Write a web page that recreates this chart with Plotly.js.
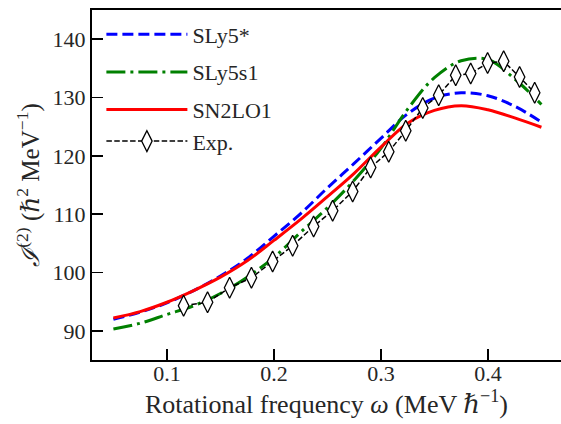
<!DOCTYPE html>
<html>
<head>
<meta charset="utf-8">
<script src="https://cdn.plot.ly/plotly-3.0.1.min.js"></script>
<style>html,body{margin:0;padding:0;background:#fff;overflow:hidden}</style>
</head>
<body>
<div id="chart" style="width:561px;height:424px"></div>
<script>
// Theory curves: rotational frequency (MeV/hbar)
const omegaTheory = [0.05, 0.075, 0.10, 0.125, 0.15, 0.175, 0.20, 0.225, 0.25, 0.275, 0.30, 0.325, 0.35, 0.375, 0.40, 0.425, 0.45];
const sly5star = [92.0, 93.2, 94.8, 96.9, 99.4, 102.4, 106.2, 110.1, 114.5, 118.7, 123.0, 127.2, 129.9, 130.8, 130.3, 128.5, 125.8];
const sly5s1   = [90.3, 91.3, 92.8, 94.3, 96.4, 99.2, 102.6, 106.9, 111.1, 115.8, 121.3, 128.0, 133.4, 136.3, 136.5, 133.2, 128.8];
const sn2lo1   = [92.2, 93.3, 94.9, 96.9, 99.2, 102.0, 105.5, 109.1, 113.0, 117.0, 121.5, 125.6, 127.8, 128.6, 127.9, 126.5, 124.9];

// Experimental data
const omegaExp = [0.1156, 0.138, 0.1586, 0.179, 0.1988, 0.2175, 0.2371, 0.2549, 0.2736, 0.2904, 0.3073, 0.3232, 0.3391, 0.354, 0.3699, 0.3839, 0.3997, 0.4147, 0.4296, 0.4437];
const jExp     = [94.3, 94.9, 97.4, 99.1, 101.9, 104.6, 107.9, 110.6, 113.9, 118.0, 120.7, 124.3, 128.2, 130.4, 133.8, 134.1, 135.9, 136.2, 133.5, 130.8];

const FONT = "Liberation Serif, DejaVu Serif, serif";
const TXT = '#262626';

const traces = [
  {x: omegaTheory, y: sly5star, name: 'SLy5*', mode: 'lines', legendgroup: 'a',
   line: {color: '#0000ff', width: 3, dash: '11px,5px', shape: 'spline', smoothing: 1}},
  {x: omegaTheory, y: sly5s1, name: 'SLy5s1', mode: 'lines', legendgroup: 'b',
   line: {color: '#008000', width: 3, dash: '19px,5px,3px,5px', shape: 'spline', smoothing: 1}},
  {x: omegaTheory, y: sn2lo1, name: 'SN2LO1', mode: 'lines', legendgroup: 'c',
   line: {color: '#ff0000', width: 3, shape: 'spline', smoothing: 1}},
  {x: omegaExp, y: jExp, name: 'Exp.', mode: 'lines+markers', legendgroup: 'c',
   line: {color: '#000000', width: 1.5, dash: '5.5px,2.4px'},
   marker: {symbol: 'diamond-tall', size: 15, color: '#ffffff', line: {color: '#000000', width: 1.3}}}
];

const layout = {
  width: 561, height: 424,
  margin: {l: 92, r: 0, t: 10, b: 64},
  paper_bgcolor: '#ffffff', plot_bgcolor: '#ffffff',
  font: {family: FONT, size: 22, color: TXT},
  showlegend: true,
  legend: {x: 0.02, y: 0.99, xanchor: 'left', yanchor: 'top', bgcolor: 'rgba(0,0,0,0)',
           font: {family: FONT, size: 22, color: TXT}, itemwidth: 81, tracegroupgap: 6},
  xaxis: {
    range: [0.03, 0.4683], tickvals: [0.1, 0.2, 0.3, 0.4], ticktext: ['0.1', '0.2', '0.3', '0.4'],
    ticks: 'inside', ticklen: 11, tickwidth: 1.5, tickcolor: '#000',
    showline: true, linecolor: '#000', linewidth: 2, mirror: true,
    showgrid: false, zeroline: false, ticklabelstandoff: -7,
    tickfont: {family: FONT, size: 22, color: TXT},
    title: {text: 'Rotational frequency <i>ω</i> (MeV ℏ<sup>−1</sup>)', standoff: 0,
            font: {family: FONT, size: 26, color: TXT}}
  },
  yaxis: {
    range: [85, 145], tickvals: [90, 100, 110, 120, 130, 140],
    ticks: 'inside', ticklen: 11, tickwidth: 1.5, tickcolor: '#000',
    showline: true, linecolor: '#000', linewidth: 2, mirror: false,
    showgrid: false, zeroline: false,
    tickfont: {family: FONT, size: 22, color: TXT},
    title: {text: '<i>ℐ</i><sup>(2)</sup> (<i>ℏ</i><sup>2</sup> MeV<sup>−1</sup>)', standoff: 6,
            font: {family: FONT, size: 25, color: TXT}}
  }
};

Plotly.newPlot('chart', traces, layout, {staticPlot: true, displayModeBar: false});
</script>
</body>
</html>
